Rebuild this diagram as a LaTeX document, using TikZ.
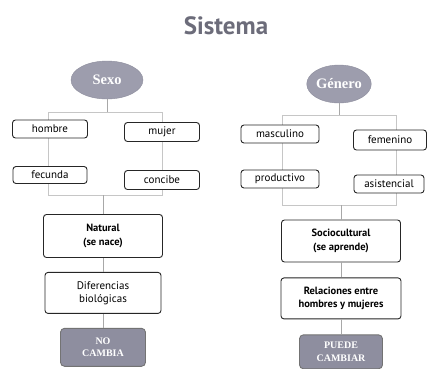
\documentclass[tikz,border=0pt]{standalone}
\usepackage{fontspec}
\setmainfont{PT Sans}
\newfontfamily\ovalfont{Liberation Serif}
\usetikzlibrary{shapes,positioning}
\definecolor{ovalgray}{HTML}{9D9DAD}
\definecolor{endgray}{HTML}{8E8E9F}
\definecolor{titlegray}{HTML}{6C6C7A}
\definecolor{framegray}{HTML}{C6C6C6}
\tikzset{
	oval/.style={
		ellipse,
		fill=ovalgray,
		draw=ovalgray!90!black,
		text=white,
		inner sep=0pt,
		font=\ovalfont\bfseries\fontsize{14.5}{16}\selectfont,
	},
	box/.style={
		rectangle,
		rounded corners=3pt,
		line width=0.9pt,
		draw=black!85,
		fill=white,
		align=center,
		inner sep=1pt,
		font=\fontsize{11}{13}\selectfont,
	},
	boldbox/.style={
		box,
		font=\bfseries\fontsize{10.5}{13.5}\selectfont,
	},
	endbox/.style={
		rectangle,
		rounded corners=4pt,
		line width=0.9pt,
		draw=black!55,
		fill=endgray,
		text=white,
		align=center,
		font=\ovalfont\bfseries\fontsize{10}{12.5}\selectfont,
	},
	frame/.style={
		draw=framegray,
		line width=0.8pt,
	},
	link/.style={
		draw=framegray!85!black,
		line width=0.8pt,
	},
}

\begin{document}
\begin{tikzpicture}[x=1pt, y=-1pt, node distance=14pt]
				
				\useasboundingbox (0,0) rectangle (428,368);
				
				\node [text=titlegray, anchor=base, font=\bfseries\fontsize{25}{28}\selectfont] (title) at (226,34) {Sistema};
				
				% Sexo
				\coordinate (sx-tl) at (48,112);
				\coordinate (sx-br) at (162,195);
				\draw [frame] (sx-tl) rectangle (sx-br);
				
				\node [oval, minimum width=72pt, minimum height=38pt] (sexo) at (107,80) {Sexo};
				\draw [link] (sexo) -- (sexo |- sx-tl);
				
				\node [box, minimum width=75pt, minimum height=18pt] (hombre) at (50,129) {hombre};
				\node [box, minimum width=75pt, minimum height=19pt] (mujer) at (162,132) {mujer};
				\node [box, minimum width=74pt, minimum height=17pt] (fecunda) at (50,175) {fecunda};
				\node [box, minimum width=75pt, minimum height=19pt] (concibe) at (162,180) {concibe};
				
				\node [boldbox, minimum width=119pt, minimum height=43pt] (natural) at (103,236) {Natural\\(se nace)};
				\draw [link] (natural) -- (natural |- sx-br);
				\node [box, minimum width=116pt, minimum height=41pt] (diferencias) [below =of natural] {Diferencias\\biológicas} edge [link] (natural);
				\node [endbox, minimum width=85pt, minimum height=38pt] (nocambia) [below =of diferencias] {NO\\CAMBIA} edge [link] (diferencias);
				
				% Genero
				\coordinate (gn-tl) at (282,115);
				\coordinate (gn-br) at (396,205);
				\draw [frame] (gn-tl) rectangle (gn-br);
				
				\node [oval, minimum width=56pt, minimum height=38pt] (genero) at (339,84) {Género};
				\draw [link] (genero) -- (genero |- gn-tl);
				
				\node [box, minimum width=78pt, minimum height=18pt] (masculino) at (280,134) {masculino};
				\node [box, minimum width=73pt, minimum height=20pt] (femenino) at (390,140) {femenino};
				\node [box, minimum width=78pt, minimum height=18pt] (productivo) at (280,179) {productivo};
				\node [box, minimum width=70pt, minimum height=18pt] (asistencial) at (389,184) {asistencial};
				
				\node [boldbox, minimum width=119pt, minimum height=42pt] (sociocultural) at (341,241) {Sociocultural\\(se aprende)};
				\draw [link] (sociocultural) -- (sociocultural |- gn-br);
				\node [boldbox, minimum width=120pt, minimum height=41pt] (relaciones) [node distance=15pt, below =of sociocultural] {Relaciones entre\\hombres y mujeres} edge [link] (sociocultural);
				\node [endbox, minimum width=83pt, minimum height=34pt] (puedecambiar) [node distance=15pt, below =of relaciones] {PUEDE\\CAMBIAR} edge [link] (relaciones);
			\end{tikzpicture}
\end{document}
